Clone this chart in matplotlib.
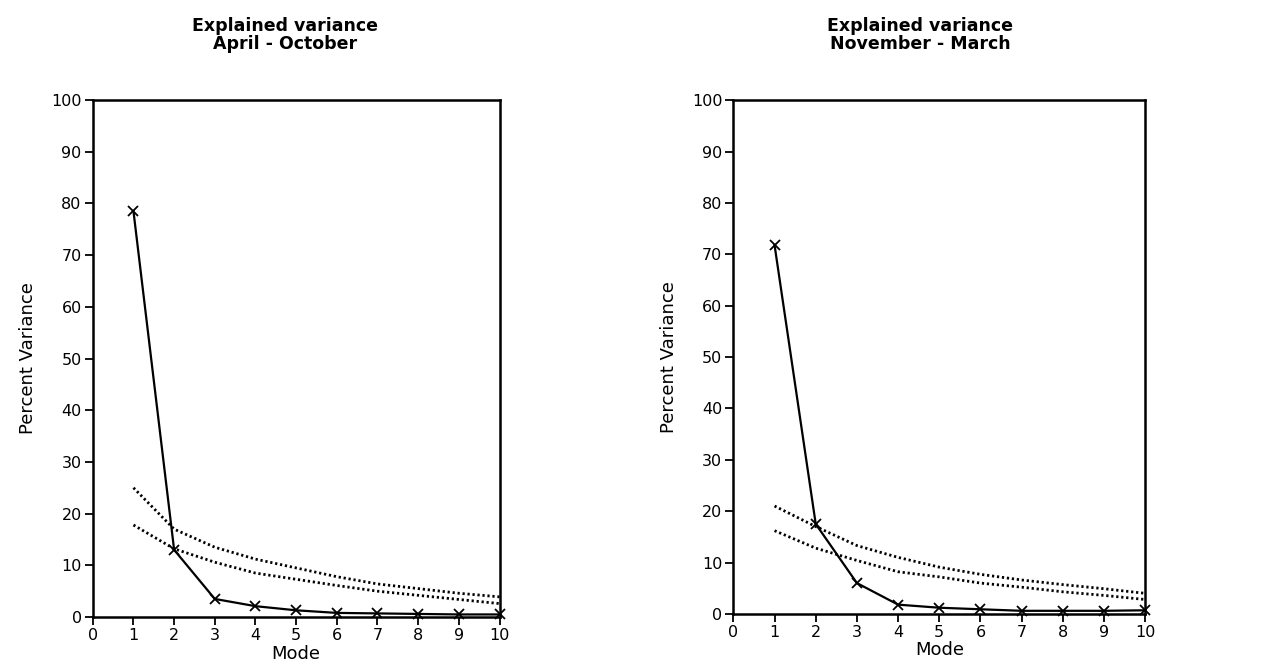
import matplotlib
matplotlib.use("Agg")
import matplotlib.pyplot as plt

modes = [1, 2, 3, 4, 5, 6, 7, 8, 9, 10]

# April - October
ao_var = [78.5, 13.0, 3.5, 2.1, 1.3, 0.8, 0.7, 0.6, 0.5, 0.5]
ao_upper = [25.0, 17.0, 13.5, 11.2, 9.5, 7.8, 6.4, 5.5, 4.6, 3.9]
ao_lower = [17.8, 13.2, 10.6, 8.5, 7.3, 6.1, 5.0, 4.2, 3.4, 2.6]

# November - March
nm_var = [71.8, 17.5, 6.0, 1.8, 1.2, 0.9, 0.6, 0.6, 0.6, 0.7]
nm_upper = [21.0, 17.0, 13.3, 11.0, 9.1, 7.7, 6.6, 5.7, 4.9, 4.0]
nm_lower = [16.2, 12.8, 10.4, 8.2, 7.2, 6.0, 5.2, 4.3, 3.6, 2.8]

x_ticks = list(range(0, 11))
y_ticks = list(range(0, 101, 10))

fig = plt.figure(figsize=(12.71, 6.68), dpi=100)

panels = [
    ([0.0730, 0.0763, 0.320, 0.774], ao_var, ao_upper, ao_lower,
     "Explained variance\nApril - October", 0.224),
    ([0.577, 0.081, 0.324, 0.769], nm_var, nm_upper, nm_lower,
     "Explained variance\nNovember - March", 0.724),
]

for rect, var, up, lo, title, tx in panels:
    ax = fig.add_axes(rect)
    ax.plot(modes, up, color="black", ls=(0, (0.8, 1.0)), lw=2.0)
    ax.plot(modes, lo, color="black", ls=(0, (0.8, 1.0)), lw=2.0)
    ax.plot(modes, var, color="black", lw=1.6, marker="x", ms=7, mew=1.3,
            clip_on=False)
    ax.set_xlim(0, 10)
    ax.set_ylim(0, 100)
    ax.set_xticks(x_ticks)
    ax.set_yticks(y_ticks)
    ax.tick_params(direction="out", length=6, width=1.3, labelsize=11.5,
                   color="black", pad=2)
    for sp in ax.spines.values():
        sp.set_linewidth(1.8)
    ax.set_xlabel("Mode", fontsize=13, labelpad=1)
    ax.set_ylabel("Percent Variance", fontsize=13, labelpad=10)
    fig.text(tx, 0.948, title, ha="center", va="center", fontsize=12.5,
             fontweight="bold", linespacing=1.0)

fig.savefig("out.png", dpi=100)
